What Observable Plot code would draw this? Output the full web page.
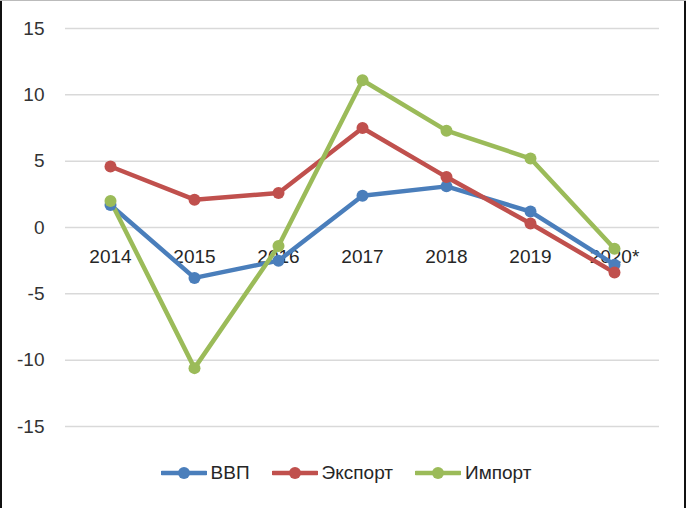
<!DOCTYPE html>
<html>
<head>
<meta charset="utf-8">
<script src="https://cdn.jsdelivr.net/npm/d3@7"></script>
<script src="https://cdn.jsdelivr.net/npm/@observablehq/plot@0.6"></script>
<style>
  html, body { margin: 0; padding: 0; background: #fff; }
  #wrap { position: relative; width: 686px; height: 508px; overflow: hidden;
          font-family: "Liberation Sans", Arial, sans-serif; }
  #edgeL { position: absolute; left: 0; top: 0; width: 2px; height: 508px; background: #111; }
  #edgeR { position: absolute; right: 0; top: 0; width: 2px; height: 508px; background: #111; }
  #edgeT { position: absolute; left: 0; top: 0; width: 686px; height: 1px; background: #bbb; }
  #legend { position: absolute; left: 0; top: 445px; width: 686px; height: 56px;
            display: flex; justify-content: center; align-items: center; gap: 22px;
            font-size: 19px; color: #262626; padding-left: 6px; box-sizing: border-box; }
  .item { display: flex; align-items: center; gap: 4px; }
</style>
</head>
<body>
<div id="wrap">
  <div id="chart"></div>
  <div id="legend"></div>
  <div id="edgeL"></div><div id="edgeR"></div><div id="edgeT"></div>
</div>
<script>
const years = ["2014", "2015", "2016", "2017", "2018", "2019", "2020*"];
const seriesNames = ["ВВП", "Экспорт", "Импорт"];
const seriesColors = ["#4a7ebb", "#c0504d", "#9bbb59"];
const gdp = [1.7, -3.8, -2.5, 2.4, 3.1, 1.2, -2.8];
const exportVals = [4.6, 2.1, 2.6, 7.5, 3.8, 0.3, -3.4];
const importVals = [2.0, -10.6, -1.4, 11.1, 7.3, 5.2, -1.6];
const yTicks = [-15, -10, -5, 0, 5, 10, 15];

const seriesValues = [gdp, exportVals, importVals];
const data = seriesNames.flatMap((s, i) =>
  years.map((y, j) => ({series: s, year: y, value: seriesValues[i][j]})));

const colorScale = {domain: seriesNames, range: seriesColors};

const plot = Plot.plot({
  width: 686,
  height: 445,
  marginLeft: 65,
  marginRight: 27,
  marginTop: 28,
  marginBottom: 19,
  style: {fontFamily: "Liberation Sans, Arial, sans-serif", fontSize: "19px", color: "#333", background: "transparent"},
  x: {type: "point", domain: years, padding: 0.5, axis: null},
  y: {domain: [-15, 15], ticks: yTicks},
  color: colorScale,
  marks: [
    Plot.ruleY(yTicks, {stroke: "#d9d9d9", strokeWidth: 1.5}),
    Plot.axisY(yTicks, {tickSize: 0, tickPadding: 21, label: null, fontSize: 19, fill: "#333", tickFormat: d => String(d)}),
    Plot.text(years, {x: d => d, y: () => 0, dy: 29, text: d => d, fontSize: 19, fill: "#262626"}),
    Plot.line(data, {x: "year", y: "value", z: "series", stroke: "series", strokeWidth: 4.5, strokeLinejoin: "round", strokeLinecap: "round"}),
    Plot.dot(data, {x: "year", y: "value", fill: "series", r: 6})
  ]
});
document.getElementById("chart").appendChild(plot);

// Legend
const legend = document.getElementById("legend");
seriesNames.forEach((name, i) => {
  const item = document.createElement("div");
  item.className = "item";
  item.innerHTML = `<svg width="46" height="16"><line x1="1" y1="8" x2="45" y2="8" stroke="${seriesColors[i]}" stroke-width="4.5" stroke-linecap="round"/><circle cx="23" cy="8" r="6" fill="${seriesColors[i]}"/></svg><span>${name}</span>`;
  legend.appendChild(item);
});
</script>
</body>
</html>
